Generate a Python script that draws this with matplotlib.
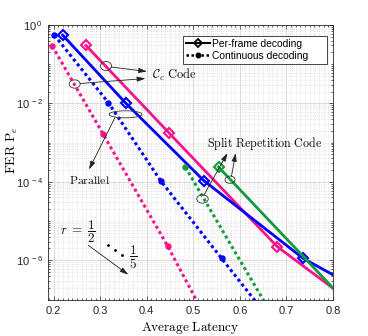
import numpy as np
import matplotlib
matplotlib.use('Agg')
import matplotlib.pyplot as plt
from matplotlib.patches import Ellipse
from matplotlib.lines import Line2D
from matplotlib.ticker import MultipleLocator, LogLocator, FixedLocator, FuncFormatter, NullFormatter

plt.rcParams['font.family'] = ['Liberation Sans', 'DejaVu Sans']

# C_c code, per-frame / continuous decoding
cc_frame_lat = [0.2195, 0.3554, 0.5227, 0.7358, 0.85]
cc_frame_fer = [5.5e-1, 1.0e-2, 1.07e-4, 1.12e-6, 2.0e-7]
cc_cont_lat = [0.2015, 0.3174, 0.4298, 0.5607, 0.64]
cc_cont_fer = [5.5e-1, 1.05e-2, 1.07e-4, 1.12e-6, 7.2e-8]

# parallel codes
par_frame_lat = [0.2695, 0.4483, 0.68, 0.85]
par_frame_fer = [3.0e-1, 1.74e-3, 2.24e-6, 7.0e-8]
par_cont_lat = [0.197, 0.3067, 0.445, 0.53]
par_cont_fer = [2.9e-1, 1.62e-3, 2.29e-6, 2.9e-8]

# split repetition code
src_frame_lat = [0.5543, 0.7358, 0.85]
src_frame_fer = [2.37e-4, 1.26e-6, 4.6e-8]
src_cont_lat = [0.483, 0.595, 0.68]
src_cont_fer = [2.37e-4, 1.26e-6, 2.5e-8]

blue = '#0000ff'
pink = '#f5148c'
green = '#139a3e'

fig = plt.figure(figsize=(3.68, 3.36), dpi=100)
ax = fig.add_axes([48 / 368, 36.5 / 336, 285 / 368, 274.6 / 336])

dot = (0, (1, 1))
# per-frame (solid, open diamonds), continuous (dotted, dots)
ax.plot(par_frame_lat, par_frame_fer, '-', color=pink, lw=2, marker='D', ms=5.5,
        mfc='none', mew=1.5, markevery=[0, 1, 2])
ax.plot(par_cont_lat, par_cont_fer, linestyle=dot, color=pink, lw=2.2, marker='o', ms=3.6,
        markevery=[0, 1, 2])
ax.plot(cc_frame_lat, cc_frame_fer, '-', color=blue, lw=2, marker='D', ms=5.5,
        mfc='none', mew=1.5, markevery=[0, 1, 2, 3])
ax.plot(cc_cont_lat, cc_cont_fer, linestyle=dot, color=blue, lw=2.2, marker='o', ms=3.6,
        markevery=[0, 1, 2, 3])
ax.plot(src_frame_lat, src_frame_fer, '-', color=green, lw=2, marker='D', ms=5.5,
        mfc='none', mew=1.5, markevery=[0])
ax.plot(src_cont_lat, src_cont_fer, linestyle=dot, color=green, lw=2.2, marker='o', ms=3.6,
        markevery=[0])

ax.set_yscale('log')
ax.set_xlim(0.188, 0.8)
ax.set_ylim(1e-7, 1)

ax.xaxis.set_major_locator(MultipleLocator(0.1))
ax.xaxis.set_minor_locator(MultipleLocator(0.01))
ax.xaxis.set_major_formatter(FuncFormatter(lambda v, p: '%.1f' % v))
ax.yaxis.set_major_locator(FixedLocator([1, 1e-2, 1e-4, 1e-6]))
ax.yaxis.set_minor_locator(LogLocator(base=10, subs=np.arange(1, 10), numticks=30))
ax.yaxis.set_major_formatter(FuncFormatter(
    lambda v, p: r'$\mathregular{10^{\,%d}}$' % int(round(np.log10(v)))))
ax.yaxis.set_minor_formatter(NullFormatter())

ax.grid(which='major', color='#dadada', lw=0.7, ls='-')
ax.grid(which='minor', color='#cfcfcf', lw=0.5, ls=(0, (1, 2)))
ax.set_axisbelow(True)
ax.tick_params(which='both', direction='in', top=True, right=True, colors='#262626',
               labelsize=8, width=0.5)
ax.tick_params(which='major', length=3)
ax.tick_params(which='minor', length=1.5)
ax.tick_params(axis='x', pad=5)
for s in ax.spines.values():
    s.set_color('#262626')
    s.set_linewidth(0.6)

ax.set_xlabel(r'$\mathrm{Average\ Latency}$', fontsize=9.5, math_fontfamily='cm')
ax.set_ylabel(r'$\mathrm{FER\ P}_e$', fontsize=9.8, math_fontfamily='cm')
ax.xaxis.set_label_coords(0.5, -0.076)
ax.yaxis.set_label_coords(-0.097, 0.545)

# legend
h1 = Line2D([], [], color='k', lw=1.5, marker='D', ms=4.5, mfc='none', mew=1.3)
h2 = Line2D([], [], color='k', lw=1.8, linestyle=dot, marker='o', ms=3.3)
leg = ax.legend([h1, h2], ['Per-frame decoding', 'Continuous decoding'],
                loc='upper left', bbox_to_anchor=(0.474, 0.96, 0.505, 0.0), mode='expand',
                borderaxespad=0, fontsize=7.4, handlelength=2.3, handletextpad=0.2,
                labelspacing=0.2, borderpad=0.3, fancybox=False, framealpha=1,
                edgecolor='#262626')
leg.get_frame().set_linewidth(0.6)


def pxy(px, py):
    return ((px - 48) / 285, (299.5 - py) / 274.6)


def ell(px, py, w, h):
    c = pxy(px, py)
    ax.add_patch(Ellipse(c, w / 285, h / 274.6, transform=ax.transAxes,
                         fill=False, ec='#333333', lw=0.6, zorder=5))


def arr(p0, p1):
    ax.annotate('', xy=pxy(*p1), xytext=pxy(*p0), xycoords='axes fraction',
                textcoords='axes fraction',
                arrowprops=dict(arrowstyle='-|>,head_length=0.5,head_width=0.15',
                                color='#222222', lw=0.6, shrinkA=0, shrinkB=0), zorder=5)


serif = dict(math_fontfamily='cm', transform=ax.transAxes, color='#111111', zorder=6)

# C_c code
ell(106, 66, 11, 9)
ell(74.7, 84, 11, 8.3)
arr((111, 67), (147, 71.5))
arr((80, 83.5), (145.5, 78.5))
ax.text(*pxy(152.5, 75), r'$\mathcal{C}_c\ \mathrm{Code}$', fontsize=9, ha='left',
        va='center', **serif)

# parallel
ell(125.5, 114.3, 33, 7)
arr((115, 117.5), (89, 169.5))
ax.text(*pxy(89.5, 181), r'$\mathrm{Parallel}$', fontsize=8.5, ha='center', va='center', **serif)

# split repetition code
ell(202.5, 199, 11.5, 8.3)
ell(230, 179.7, 10, 7.3)
arr((204, 195), (227.5, 153))
arr((231.5, 176), (235.7, 153))
ax.text(*pxy(207, 144), r'$\mathrm{Split\ Repetition\ Code}$', fontsize=8.7, ha='left',
        va='center', **serif)

# rate annotation
ax.text(*pxy(60, 232), r'$r\;=\;\dfrac{1}{2}$', fontsize=9.5, ha='left', va='center', **serif)
for qx, qy in [(108.3, 245.3), (115, 250), (121.7, 254.7)]:
    ax.plot(*pxy(qx, qy), 'o', color='k', ms=1.0, transform=ax.transAxes, zorder=6)
ax.text(*pxy(133, 257), r'$\dfrac{1}{5}$', fontsize=9.5, ha='center', va='center', **serif)
arr((88.3, 245.3), (128.3, 274.7))

fig.savefig('out.png', dpi=100)
